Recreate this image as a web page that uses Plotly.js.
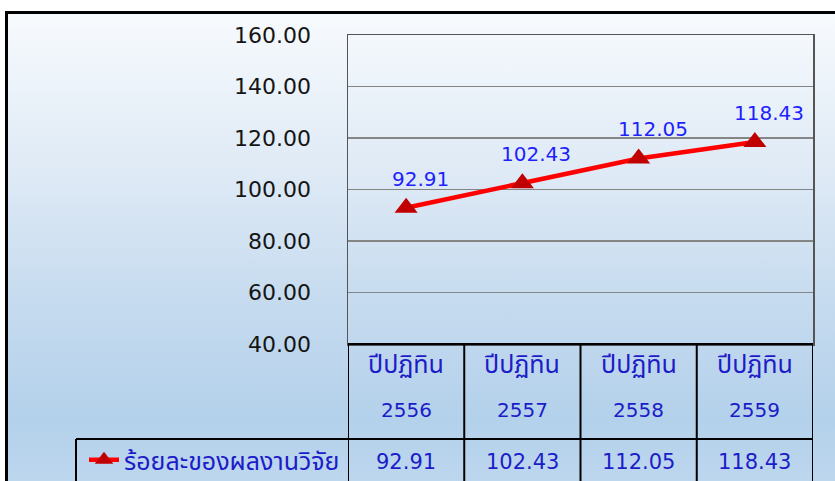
<!DOCTYPE html>
<html>
<head>
<meta charset="utf-8">
<script src="https://cdn.plot.ly/plotly-3.0.1.min.js"></script>
<style>
  html, body { margin: 0; padding: 0; background: #ffffff; }
  #wrap { position: relative; width: 835px; height: 481px; overflow: hidden; }
  #bg {
    position: absolute; left: 5px; top: 11px; width: 835px; height: 475px;
    border-top: 3px solid #000; border-left: 3px solid #000;
    background: linear-gradient(to bottom, #f7fafd 0%, #dde9f5 35%, #c6dbef 60%, #b4d1eb 85%, #bdd7ee 100%);
  }
  #chart { position: absolute; left: 0; top: 0; width: 835px; height: 481px; }
</style>
</head>
<body>
<div id="wrap">
  <div id="bg"></div>
  <div id="chart"></div>
</div>
<script>
// ---- data ----
const categoryPrefix = 'ปีปฏิทิน';
const years = ['2556', '2557', '2558', '2559'];
const values = [92.91, 102.43, 112.05, 118.43];
const seriesName = 'ร้อยละของผลงานวิจัย';
const yTicks = [40, 60, 80, 100, 120, 140, 160];

// ---- layout helpers (pixel geometry of the reference) ----
const W = 835, H = 481;
const plotL = 348, plotR = 813, plotT = 35, plotB = 344;
const plotH = plotB - plotT, plotW = plotR - plotL;
const py = p => (plotB - p) / plotH;   // pixel y -> paper y
const px = p => (p - plotL) / plotW;   // pixel x -> paper x

const thaiFont = "Tahoma, 'Noto Sans Thai', 'Noto Sans Thai UI', 'Noto Sans', 'DejaVu Sans', sans-serif";
const numFont = "Tahoma, 'DejaVu Sans', sans-serif";
const labelBlue = '#1f1fff';
const tableBlue = '#1c1cc8';

const trace = {
  type: 'scatter',
  mode: 'lines+markers',
  x: years,
  y: values,
  name: seriesName,
  line: { color: '#ff0000', width: 4.5 },
  marker: { symbol: 'triangle-up', size: 20, color: '#c00000', line: { width: 0 } },
  hoverinfo: 'skip'
};

const annotations = [];
// data labels (category axis: position by category index)
values.forEach((v, i) => {
  annotations.push({
    x: i, y: v, xref: 'x', yref: 'y',
    text: v.toFixed(2), showarrow: false,
    xshift: 14, yshift: 29,
    font: { family: numFont, size: 20, color: labelBlue }
  });
});
// table: category header cells and values row
years.forEach((yr, i) => {
  annotations.push({
    x: i, y: py(365), xref: 'x', yref: 'paper', yanchor: 'middle',
    text: categoryPrefix, showarrow: false,
    font: { family: thaiFont, size: 25, color: tableBlue }
  });
  annotations.push({
    x: i, y: py(410), xref: 'x', yref: 'paper', yanchor: 'middle',
    text: yr, showarrow: false,
    font: { family: numFont, size: 20, color: tableBlue }
  });
  annotations.push({
    x: i, y: py(462), xref: 'x', yref: 'paper', yanchor: 'middle',
    text: values[i].toFixed(2), showarrow: false,
    font: { family: numFont, size: 21, color: tableBlue }
  });
});

const black = { color: '#000000', width: 2 };
const shapes = [
  { type: 'line', xref: 'paper', yref: 'paper', x0: 0, x1: 1, y0: 0, y1: 0, line: black },
  { type: 'line', xref: 'paper', yref: 'paper', x0: px(76), x1: 1, y0: py(439), y1: py(439), line: black },
  { type: 'line', xref: 'paper', yref: 'paper', x0: px(76), x1: px(76), y0: py(439), y1: py(490), line: black }
];
[-0.5, 0.5, 1.5, 2.5, 3.5].forEach(cx => {
  shapes.push({ type: 'line', xref: 'x', yref: 'paper', x0: cx, x1: cx, y0: 0, y1: py(490), line: black });
});

const layout = {
  width: W, height: H,
  margin: { l: plotL, r: W - plotR, t: plotT, b: H - plotB, autoexpand: false },
  paper_bgcolor: 'rgba(0,0,0,0)',
  plot_bgcolor: 'rgba(0,0,0,0)',
  showlegend: true,
  legend: {
    x: px(84), xanchor: 'left', y: py(460), yanchor: 'middle',
    bgcolor: 'rgba(0,0,0,0)', borderwidth: 0,
    font: { family: thaiFont, size: 25, color: tableBlue },
    itemwidth: 30
  },
  xaxis: {
    type: 'category', range: [-0.5, 3.5],
    showgrid: false, showticklabels: false, ticks: '',
    showline: true, mirror: true, linecolor: '#555555', linewidth: 1.5,
    zeroline: false, fixedrange: true
  },
  yaxis: {
    range: [40, 160], tickvals: yTicks, tickformat: '.2f',
    showgrid: true, gridcolor: '#858585', gridwidth: 1.6,
    showline: true, mirror: true, linecolor: '#555555', linewidth: 1.5,
    zeroline: false, ticks: '', ticklabelstandoff: 31,
    tickfont: { family: numFont, size: 22, color: '#151515' },
    fixedrange: true
  },
  annotations: annotations,
  shapes: shapes
};

Plotly.newPlot('chart', [trace], layout, { displayModeBar: false, staticPlot: true });
</script>
</body>
</html>
